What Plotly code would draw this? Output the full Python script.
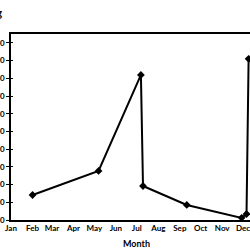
import plotly.graph_objects as go

dates = ["2021-02-01", "2021-05-07", "2021-07-07", "2021-07-10",
         "2021-09-11", "2021-11-29", "2021-12-06", "2021-12-09"]
values = [14.1, 27.7, 81.9, 19.2, 8.5, 1.2, 3.4, 91.0]
y_ticks = [0, 10, 20, 30, 40, 50, 60, 70, 80, 90, 100]
y_range = [0, 105]
x_range = ["2021-01-01", "2021-12-11"]
title_text = "Monthly Reading"

fig = go.Figure()
fig.add_trace(go.Scatter(
    x=dates, y=values, mode="lines+markers",
    line=dict(color="black", width=2),
    marker=dict(symbol="diamond", size=6, color="black"),
    showlegend=False, cliponaxis=False,
))
fig.add_trace(go.Scatter(x=[None], y=[None], yaxis="y2", showlegend=False))

tickfont = dict(family="Lato", size=8, color="black", weight="bold")

fig.update_layout(
    width=250, height=250,
    margin=dict(l=11, r=0, t=34, b=30, autoexpand=False),
    paper_bgcolor="white", plot_bgcolor="white",
    xaxis=dict(
        type="date", range=x_range, dtick="M1", tickformat="%b",
        showgrid=False, showline=True, linecolor="black", linewidth=1.5,
        mirror=True, ticks="", tickfont=tickfont, zeroline=False,
        automargin=False, ticklabeloverflow="allow",
    ),
    yaxis=dict(
        range=y_range, tickvals=y_ticks, showgrid=False, zeroline=False,
        showline=True, linecolor="black", linewidth=1.5,
        ticks="outside", ticklen=3, tickwidth=1, tickcolor="black",
        tickfont=tickfont, automargin=False, ticklabeloverflow="allow",
    ),
    yaxis2=dict(
        range=y_range, tickvals=y_ticks, overlaying="y", side="left",
        showgrid=False, zeroline=False, showline=False,
        ticks="inside", ticklen=2, tickwidth=1, tickcolor="black",
        showticklabels=False, automargin=False,
    ),
    annotations=[
        dict(text="Month", xref="paper", yref="paper", x=0.527, y=-0.129,
             xanchor="center", yanchor="middle", showarrow=False,
             font=dict(family="Lato", size=9, color="black", weight="bold")),
        dict(text=title_text, xref="paper", yref="paper", x=-0.029, y=1.118,
             xanchor="right", yanchor="middle", showarrow=False,
             font=dict(family="Lato", size=11, color="black", weight="bold")),
    ],
)

fig.write_html("out.html")
